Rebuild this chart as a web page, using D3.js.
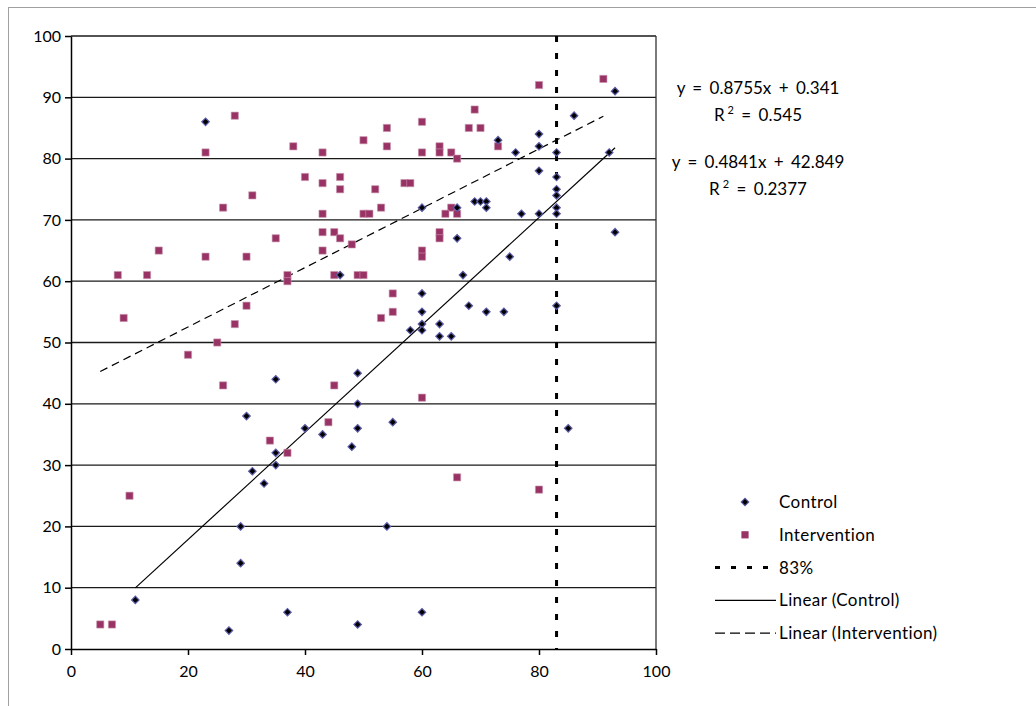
<!DOCTYPE html>
<html>
<head>
<meta charset="utf-8">
<script src="https://cdn.jsdelivr.net/npm/d3@7"></script>
<style>
  body { margin: 0; background: white; }
  svg text { font-family: Lato, "Open Sans", sans-serif; fill: #000; }
</style>
</head>
<body>
<svg id="chart-svg" width="1036" height="706"></svg>
<script>
// Data
var control_x = [23, 93, 86, 73, 80, 80, 76, 83, 92, 80, 83, 83, 83, 83, 83, 80, 77, 69, 70, 71, 71, 66, 60, 93, 66, 75, 67, 46, 60, 60, 60, 60, 58, 63, 63, 65, 68, 71, 74, 83, 85, 35, 49, 49, 49, 43, 40, 55, 33, 35, 35, 48, 54, 37, 49, 60, 31, 29, 29, 11, 27, 30];
var control_y = [86, 91, 87, 83, 84, 82, 81, 81, 81, 78, 77, 75, 74, 72, 71, 71, 71, 73, 73, 73, 72, 72, 72, 68, 67, 64, 61, 61, 58, 55, 53, 52, 52, 53, 51, 51, 56, 55, 55, 56, 36, 44, 45, 40, 36, 35, 36, 37, 27, 30, 32, 33, 20, 6, 4, 6, 29, 20, 14, 8, 3, 38];
var interv_x = [28, 23, 31, 26, 38, 43, 50, 54, 54, 60, 60, 63, 63, 65, 66, 68, 70, 69, 73, 80, 91, 40, 43, 46, 46, 52, 57, 58, 53, 43, 50, 51, 65, 64, 66, 43, 45, 46, 63, 63, 35, 15, 8, 13, 23, 30, 9, 30, 28, 25, 20, 26, 48, 43, 37, 37, 45, 49, 50, 60, 60, 55, 55, 53, 45, 60, 44, 34, 37, 66, 80, 10, 5, 7];
var interv_y = [87, 81, 74, 72, 82, 81, 83, 85, 82, 86, 81, 82, 81, 81, 80, 85, 85, 88, 82, 92, 93, 77, 76, 77, 75, 75, 76, 76, 72, 71, 71, 71, 72, 71, 71, 68, 68, 67, 68, 67, 67, 65, 61, 61, 64, 64, 54, 56, 53, 50, 48, 43, 66, 65, 61, 60, 61, 61, 61, 65, 64, 58, 55, 54, 43, 41, 37, 34, 32, 28, 26, 25, 4, 4];

// Trendline coefficients (from the equations shown)
var control_fit = { slope: 0.8755, intercept: 0.341, r2: "0.545" };
var interv_fit = { slope: 0.4841, intercept: 42.849, r2: "0.2377" };
var threshold = 83;

var x_ticks = [0, 20, 40, 60, 80, 100];
var y_ticks = [0, 10, 20, 30, 40, 50, 60, 70, 80, 90, 100];
var legend_labels = ["Control", "Intervention", "83%", "Linear (Control)", "Linear (Intervention)"];

var svg = d3.select("#chart-svg");
var margin = { left: 71, right: 380, top: 36, bottom: 57 };
var W = 1036, H = 706;

var xScale = d3.scaleLinear().domain([0, 100]).range([margin.left, W - margin.right]);
var yScale = d3.scaleLinear().domain([0, 100]).range([H - margin.bottom, margin.top]);

var ctrl_color = "#000";
var ctrl_edge = "#5c5ca8";
var interv_color = "#993366";

// outer frame
svg.append("rect")
   .attr("x", 8.5).attr("y", 7.5)
   .attr("width", 1100).attr("height", 800)
   .style("fill", "none")
   .style("stroke", "#a0a0a0");

// gridlines
svg.selectAll(".grid")
   .data(y_ticks.filter(function(d) { return d > 0; }))
   .enter()
   .append("line")
   .attr("class", "grid")
   .attr("x1", xScale(0)).attr("x2", xScale(100))
   .attr("y1", function(d) { return yScale(d); })
   .attr("y2", function(d) { return yScale(d); })
   .style("stroke", "#1a1a1a")
   .style("stroke-width", 1.3);

// right border of plot
svg.append("line")
   .attr("x1", xScale(100)).attr("x2", xScale(100))
   .attr("y1", yScale(100)).attr("y2", yScale(0))
   .style("stroke", "#333")
   .style("stroke-width", 1.3);

// axes
var yAxis = svg.append("g")
   .attr("transform", "translate(" + xScale(0) + ",0)")
   .call(d3.axisLeft(yScale).tickValues(y_ticks).tickSize(6).tickPadding(4).tickSizeOuter(0));
var xAxis = svg.append("g")
   .attr("transform", "translate(0," + yScale(0) + ")")
   .call(d3.axisBottom(xScale).tickValues(x_ticks).tickSize(6).tickPadding(11).tickSizeOuter(0));

[yAxis, xAxis].forEach(function(a) {
  a.selectAll("path, line").style("stroke", "#000").style("stroke-width", 1.5);
  a.selectAll("text").style("font-size", "16px").style("font-family", "Lato, sans-serif");
});

// 83% vertical line
svg.append("line")
   .attr("x1", xScale(threshold)).attr("x2", xScale(threshold))
   .attr("y1", yScale(100)).attr("y2", yScale(0))
   .style("stroke", "#000")
   .style("stroke-width", 3)
   .style("stroke-dasharray", "6,11");

// trend lines
var ctrl_ext = d3.extent(control_x);
var interv_ext = d3.extent(interv_x);
svg.append("line")
   .attr("x1", xScale(ctrl_ext[0]))
   .attr("y1", yScale(control_fit.slope * ctrl_ext[0] + control_fit.intercept))
   .attr("x2", xScale(ctrl_ext[1]))
   .attr("y2", yScale(control_fit.slope * ctrl_ext[1] + control_fit.intercept))
   .style("stroke", "#000")
   .style("stroke-width", 1.2);
svg.append("line")
   .attr("x1", xScale(interv_ext[0]))
   .attr("y1", yScale(interv_fit.slope * interv_ext[0] + interv_fit.intercept))
   .attr("x2", xScale(interv_ext[1]))
   .attr("y2", yScale(interv_fit.slope * interv_ext[1] + interv_fit.intercept))
   .style("stroke", "#000")
   .style("stroke-width", 1.2)
   .style("stroke-dasharray", "8,5");

// Intervention squares
var square = d3.symbol().type(d3.symbolSquare).size(52);
svg.selectAll(".interv_pt")
   .data(interv_x)
   .enter()
   .append("path")
   .attr("class", "interv_pt")
   .attr("d", square)
   .attr("transform", function(d, i) {
     return "translate(" + xScale(d) + "," + yScale(interv_y[i]) + ")";
   })
   .style("fill", interv_color)
   .style("stroke", "#c795ad")
   .style("stroke-width", 0.6);

// Control diamonds
var diamond = d3.symbol().type(d3.symbolSquare).size(28);
svg.selectAll(".ctrl_pt")
   .data(control_x)
   .enter()
   .append("path")
   .attr("class", "ctrl_pt")
   .attr("d", diamond)
   .attr("transform", function(d, i) {
     return "translate(" + xScale(d) + "," + yScale(control_y[i]) + ") rotate(45)";
   })
   .style("fill", ctrl_color)
   .style("stroke", ctrl_edge)
   .style("stroke-width", 1.2);

// trendline equations
function equation(fit) {
  return "y = " + fit.slope + "x + " + fit.intercept;
}
var eq = svg.append("g").style("font-size", "17px");
[[control_fit, 94], [interv_fit, 168]].forEach(function(p) {
  eq.append("text")
    .attr("x", 758).attr("y", p[1])
    .attr("text-anchor", "middle")
    .style("word-spacing", "3px")
    .text(equation(p[0]));
  var r = eq.append("text")
    .attr("x", 758).attr("y", p[1] + 27)
    .attr("text-anchor", "middle")
    .style("word-spacing", "3px");
  r.append("tspan").text("R");
  r.append("tspan").attr("dx", 3).attr("dy", -7).style("font-size", "11px").text("2");
  r.append("tspan").attr("dy", 7).text(" = " + p[0].r2);
});

// legend
var leg_x = 715, leg_y = 502, leg_step = 32.8;
var leg = svg.append("g");
legend_labels.forEach(function(label, i) {
  var cy = leg_y + i * leg_step;
  if (i == 0) {
    leg.append("path").attr("d", diamond)
       .attr("transform", "translate(745," + cy + ") rotate(45)")
       .style("fill", ctrl_color).style("stroke", ctrl_edge).style("stroke-width", 1.2);
  } else if (i == 1) {
    leg.append("path").attr("d", square)
       .attr("transform", "translate(745," + cy + ")")
       .style("fill", interv_color);
  } else {
    leg.append("line")
       .attr("x1", leg_x).attr("x2", leg_x + 61)
       .attr("y1", cy).attr("y2", cy)
       .style("stroke", "#000")
       .style("stroke-width", i == 2 ? 3 : 1.2)
       .style("stroke-dasharray", i == 2 ? "5,11" : (i == 4 ? "10,5" : null));
  }
  leg.append("text")
     .attr("x", 779).attr("y", cy + 6)
     .style("font-size", "17px")
     .style("letter-spacing", "0.4px")
     .text(label);
});
</script>
</body>
</html>
